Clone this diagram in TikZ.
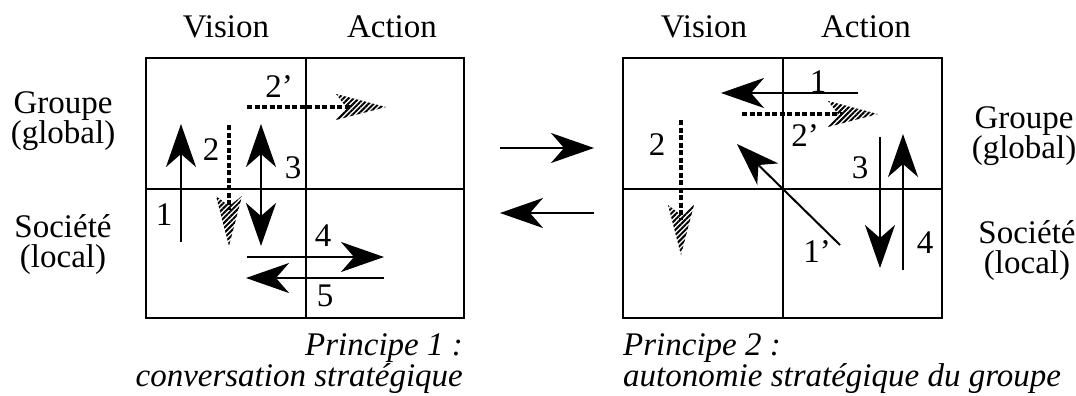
\documentclass[tikz,border=0pt]{standalone}
\usepackage{fontspec}
\setmainfont{Liberation Serif}
\usetikzlibrary{arrows.meta,patterns.meta}
\tikzset{
  grid/.style={line width=2.6pt},
  sarrow/.style={line width=2pt,-{Stealth[length=43pt,width=30pt,inset=13pt]}},
  darrow/.style={line width=2pt,{Stealth[length=43pt,width=30pt,inset=13pt]}-{Stealth[length=43pt,width=30pt,inset=13pt]}},
  hshaft/.style={line width=3.2pt,dash pattern=on 5pt off 2.5pt},
  hhead/.style={pattern={Lines[angle=45,distance=3.6pt,line width=2pt]}},
  lbl/.style={font=\fontsize{33}{30}\selectfont,inner sep=0pt},
  rowlbl/.style={font=\fontsize{33}{30}\selectfont,inner sep=0pt,align=center},
  captxt/.style={font=\fontsize{33}{29}\selectfont\itshape,inner sep=0pt}
}
\newcommand{\hatchhead}[2]{%
  \begin{scope}[shift={(#1)},rotate=#2]
    \fill[hhead] (0,0) -- (-50,-13) -- (-40,0) -- (-50,13) -- cycle;
  \end{scope}}
\begin{document}
\begin{tikzpicture}[x=1pt,y=-1pt]
\useasboundingbox (0,0) rectangle (1076,396);
% ---------- left grid ----------
\draw[grid] (146,58) rectangle (464,318);
\draw[grid] (306,58) -- (306,318);
\draw[grid] (146,189) -- (464,189);
% ---------- right grid ----------
\draw[grid] (623,58) rectangle (942,318);
\draw[grid] (783,58) -- (783,318);
\draw[grid] (623,189) -- (942,189);
% headers
\node[lbl,anchor=base] (v1) at (226,38) {Vision};
\node[lbl,anchor=base] (a1) at (392,38) {Action};
\node[lbl,anchor=base] (v2) at (704,38) {Vision};
\node[lbl,anchor=base] (a2) at (866,38) {Action};
% row labels (two lines each, one text block)
\node[rowlbl,anchor=south] (g1) at (63,151) {Groupe\\(global)};
\node[rowlbl,anchor=south] (s1) at (63,275) {Société\\(local)};
\node[rowlbl,anchor=south] (g2) at (1024,166) {Groupe\\(global)};
\node[rowlbl,anchor=south] (s2) at (1027,281) {Société\\(local)};
% captions (two lines each, one text block)
\node[captxt,anchor=south east,align=right] (p1) at (463,394) {Principe 1 :\\conversation stratégique};
\node[captxt,anchor=south west,align=left] (p2) at (623,394) {Principe 2 :\\autonomie stratégique du groupe};
% ---------- middle arrows ----------
\coordinate (m1s) at (500,148); \coordinate (m1e) at (594,148);
\coordinate (m2s) at (594,213); \coordinate (m2e) at (500,213);
\draw[sarrow] (m1s) -- (m1e);
\draw[sarrow] (m2s) -- (m2e);
% ---------- left grid arrows ----------
\coordinate (L1s) at (181,242); \coordinate (L1e) at (181,124);
\draw[sarrow] (L1s) -- (L1e);
\node[lbl] (L1t) at (164,215) {1};
\coordinate (L2s) at (229,125); \coordinate (L2e) at (229,246);
\draw[hshaft] (L2s) -- (229,210);
\hatchhead{L2e}{-90}
\node[lbl] (L2t) at (211,150) {2};
\coordinate (L3s) at (261,124); \coordinate (L3e) at (261,246);
\draw[darrow] (L3s) -- (L3e);
\node[lbl] (L3t) at (293,168) {3};
\coordinate (Lps) at (247,107); \coordinate (Lpe) at (386,107);
\draw[hshaft] (Lps) -- (350,107);
\hatchhead{Lpe}{0}
\node[lbl] (Lpt) at (279,87) {2'};
\coordinate (L4s) at (247,257); \coordinate (L4e) at (384,257);
\draw[sarrow] (L4s) -- (L4e);
\node[lbl] (L4t) at (323,236) {4};
\coordinate (L5s) at (384,278); \coordinate (L5e) at (246,278);
\draw[sarrow] (L5s) -- (L5e);
\node[lbl] (L5t) at (325,296) {5};
% ---------- right grid arrows ----------
\coordinate (R1s) at (858,93); \coordinate (R1e) at (721,93);
\draw[sarrow] (R1s) -- (R1e);
\node[lbl] (R1t) at (818,82) {1};
\coordinate (Rps) at (742,114); \coordinate (Rpe) at (878,114);
\draw[hshaft] (Rps) -- (842,114);
\hatchhead{Rpe}{0}
\node[lbl] (Rpt) at (805,136) {2'};
\coordinate (R2s) at (681,120); \coordinate (R2e) at (681,255);
\draw[hshaft] (R2s) -- (681,220);
\hatchhead{R2e}{-90}
\node[lbl] (R2t) at (657,145) {2};
\coordinate (Rqs) at (840,245); \coordinate (Rqe) at (737,144);
\draw[sarrow] (Rqs) -- (Rqe);
\node[lbl] (Rqt) at (817,252) {1'};
\coordinate (R3s) at (880,137); \coordinate (R3e) at (880,268);
\draw[sarrow] (R3s) -- (R3e);
\node[lbl] (R3t) at (860,168) {3};
\coordinate (R4s) at (903,270); \coordinate (R4e) at (903,134);
\draw[sarrow] (R4s) -- (R4e);
\node[lbl] (R4t) at (925,243) {4};
\end{tikzpicture}
\end{document}
